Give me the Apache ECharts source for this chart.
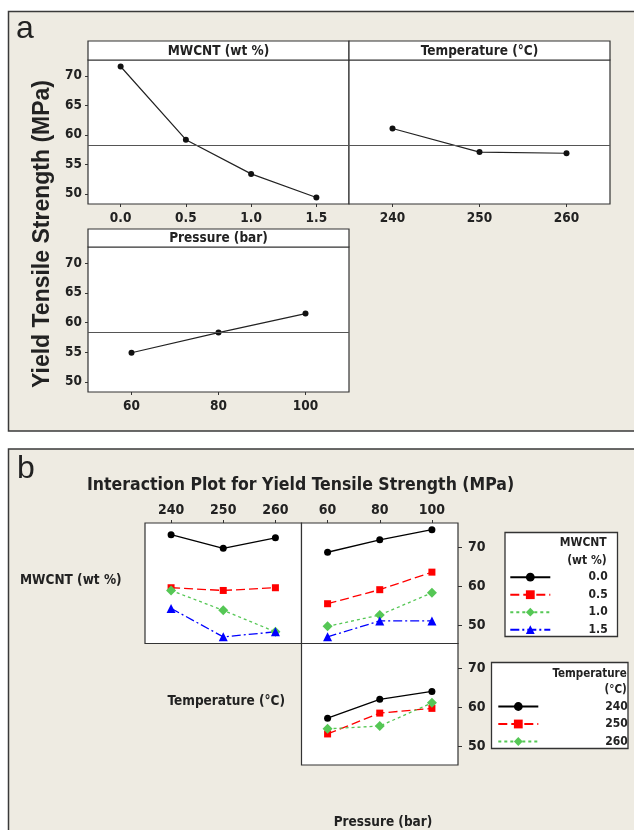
<!DOCTYPE html>
<html>
<head>
<meta charset="utf-8">
<script src="https://cdn.jsdelivr.net/npm/echarts@6/dist/echarts.min.js"></script>
<style>
html,body{margin:0;padding:0;background:#fff;}
#c{width:634px;height:830px;}
</style>
</head>
<body>
<div id="c"></div>
<script>
// ---------- data ----------
const mwcntLevels = ['0.0', '0.5', '1.0', '1.5'];
const tempLevels = ['240', '250', '260'];
const pressureLevels = ['60', '80', '100'];

// main effects (panel a)
const mainMwcnt = [71.6, 59.2, 53.4, 49.4];
const mainTemp = [61.1, 57.1, 56.9];
const mainPressure = [54.9, 58.3, 61.5];
const grandMean = 58.3;
const mainTicks = [50, 55, 60, 65, 70];

// interaction (panel b)
const interTicks = [50, 60, 70];
const mwTemp00 = [73.2, 69.7, 72.4];
const mwTemp05 = [59.6, 58.9, 59.6];
const mwTemp10 = [58.9, 53.8, 48.3];
const mwTemp15 = [54.3, 47.0, 48.3];
const mwPres00 = [68.7, 71.9, 74.5];
const mwPres05 = [55.5, 59.1, 63.6];
const mwPres10 = [49.7, 52.6, 58.3];
const mwPres15 = [47.0, 51.1, 51.1];
const tpPres240 = [57.2, 62.0, 64.0];
const tpPres250 = [53.2, 58.5, 59.7];
const tpPres260 = [54.5, 55.2, 61.1];

// ---------- styles ----------
const F = "'DejaVu Sans Condensed', 'DejaVu Sans', sans-serif";
const TXT = '#222';
const BORDER = '#333';
const PANEL_BG = '#eeebe2';

const mwStyles = [
  {color: '#000000', type: 'solid', symbol: 'circle', size: 7},
  {color: '#ff0000', type: [9, 4], symbol: 'rect', size: 7},
  {color: '#55c755', type: [3, 3], symbol: 'diamond', size: 10},
  {color: '#0000ff', type: [9, 3, 2, 3], symbol: 'triangle', size: 9}
];
const tpStyles = mwStyles.slice(0, 3);

const chart = echarts.init(document.getElementById('c'), null, {renderer: 'canvas'});

const grids = [
  {left: 88, top: 60, width: 261, height: 144},
  {left: 349, top: 60, width: 261, height: 144},
  {left: 88, top: 247, width: 261, height: 145},
  {left: 145, top: 523, width: 156.5, height: 120.5},
  {left: 301.5, top: 523, width: 156.5, height: 120.5},
  {left: 301.5, top: 643.5, width: 156.5, height: 121.5}
].map(g => Object.assign({show: true, backgroundColor: '#fff', borderColor: BORDER, borderWidth: 1.2, containLabel: false}, g));

const tickLabelA = {fontFamily: F, fontWeight: 'bold', fontSize: 13.5, color: TXT};
const tickLabelB = {fontFamily: F, fontWeight: 'bold', fontSize: 14, color: TXT};

function xCat(gi, data, opt) {
  return Object.assign({
    type: 'category', gridIndex: gi, data: data, boundaryGap: true,
    axisLine: {show: false}, splitLine: {show: false},
    axisTick: {show: true, alignWithLabel: true, length: 3, lineStyle: {color: BORDER}},
    axisLabel: Object.assign({margin: 7}, tickLabelA)
  }, opt || {});
}
function yVal(gi, min, max, ticks, opt) {
  return Object.assign({
    type: 'value', gridIndex: gi, min: min, max: max,
    axisLine: {show: false}, splitLine: {show: false},
    axisTick: {show: true, length: 3, customValues: ticks, lineStyle: {color: BORDER}},
    axisLabel: Object.assign({margin: 6, customValues: ticks}, tickLabelA)
  }, opt || {});
}

const xAxes = [
  xCat(0, mwcntLevels),
  xCat(1, tempLevels),
  xCat(2, pressureLevels),
  xCat(3, tempLevels, {position: 'top', axisLabel: Object.assign({margin: 6}, tickLabelB)}),
  xCat(4, pressureLevels, {position: 'top', axisLabel: Object.assign({margin: 6}, tickLabelB)}),
  xCat(5, pressureLevels, {axisTick: {show: false}, axisLabel: {show: false}})
];
const yAxes = [
  yVal(0, 48.3, 72.7, mainTicks),
  yVal(1, 48.3, 72.7, mainTicks, {axisTick: {show: false}, axisLabel: {show: false}}),
  yVal(2, 48.3, 72.7, mainTicks),
  yVal(3, 45.3, 76.2, interTicks, {axisTick: {show: false}, axisLabel: {show: false}}),
  yVal(4, 45.3, 76.2, interTicks, {position: 'right',
    axisTick: {show: true, length: 4, customValues: interTicks, lineStyle: {color: BORDER}},
    axisLabel: Object.assign({margin: 10, customValues: interTicks}, tickLabelB)}),
  yVal(5, 45.3, 76.2, interTicks, {position: 'right',
    axisTick: {show: true, length: 4, customValues: interTicks, lineStyle: {color: BORDER}},
    axisLabel: Object.assign({margin: 10, customValues: interTicks}, tickLabelB)})
];

function mainSeries(gi, data) {
  return {
    type: 'line', xAxisIndex: gi, yAxisIndex: gi, data: data,
    symbol: 'circle', symbolSize: 6, itemStyle: {color: '#111'},
    lineStyle: {color: '#222', width: 1.2}, silent: true,
    markLine: {silent: true, symbol: 'none', label: {show: false},
      lineStyle: {color: '#555', width: 1, type: 'solid'},
      data: [{yAxis: grandMean}]}
  };
}
function interSeries(gi, name, data, st) {
  return {
    type: 'line', name: name, xAxisIndex: gi, yAxisIndex: gi, data: data,
    symbol: st.symbol, symbolSize: st.size, itemStyle: {color: st.color},
    lineStyle: {color: st.color, width: 1.3, type: st.type}, z: 3
  };
}

const series = [
  mainSeries(0, mainMwcnt),
  mainSeries(1, mainTemp),
  mainSeries(2, mainPressure)
];
const mwTempRows = [mwTemp00, mwTemp05, mwTemp10, mwTemp15];
const mwPresRows = [mwPres00, mwPres05, mwPres10, mwPres15];
const tpPresRows = [tpPres240, tpPres250, tpPres260];
mwcntLevels.forEach((lv, i) => {
  series.push(interSeries(3, lv, mwTempRows[i], mwStyles[i]));
  series.push(interSeries(4, lv, mwPresRows[i], mwStyles[i]));
});
tempLevels.forEach((lv, i) => {
  series.push(interSeries(5, lv, tpPresRows[i], tpStyles[i]));
});

function legendOpt(data, left, top, textW) {
  return {
    data: data, left: left, top: top, orient: 'vertical', padding: 0,
    itemWidth: 40, itemHeight: 11, itemGap: 5.5, itemTextGap: 5,
    selectedMode: false, z: 6,
    formatter: n => '{v|' + n + '}',
    textStyle: {rich: {v: {width: textW, align: 'right', fontFamily: F, fontWeight: 'bold', fontSize: 12, color: TXT}}}
  };
}

function txt(x, y, s, o) {
  return {type: 'text', x: x, y: y, z: 7, silent: true,
    style: Object.assign({text: s, fill: TXT, font: 'bold 13.5px ' + F, textAlign: 'left', textVerticalAlign: 'middle'}, o || {})};
}
function header(x, y, w, h, s) {
  return {type: 'group', z: 5, children: [
    {type: 'rect', shape: {x: x, y: y, width: w, height: h}, z: 5,
      style: {fill: '#fff', stroke: BORDER, lineWidth: 1.2}},
    {type: 'text', x: x + w / 2, y: y + h / 2 + 0.5, z: 6,
      style: {text: s, fill: TXT, font: 'bold 13.5px ' + F, textAlign: 'center', textVerticalAlign: 'middle'}}
  ]};
}

const graphic = [
  {type: 'rect', z: -10, silent: true, shape: {x: 8.5, y: 11.5, width: 640, height: 419.5},
    style: {fill: PANEL_BG, stroke: '#3a3a3a', lineWidth: 1.5}},
  {type: 'rect', z: -10, silent: true, shape: {x: 8.5, y: 449, width: 640, height: 420},
    style: {fill: PANEL_BG, stroke: '#3a3a3a', lineWidth: 1.5}},
  txt(16, 29, 'a', {font: '32px "Liberation Sans", Arial, sans-serif'}),
  txt(17, 469, 'b', {font: '32px "Liberation Sans", Arial, sans-serif'}),
  header(88, 41, 261, 19, 'MWCNT (wt %)'),
  header(349, 41, 261, 19, 'Temperature (°C)'),
  header(88, 229, 261, 18, 'Pressure (bar)'),
  {type: 'text', x: 43, y: 234, rotation: Math.PI / 2, z: 7, silent: true,
    style: {text: 'Yield Tensile Strength (MPa)', fill: TXT, font: 'bold 23px "Liberation Sans", Arial, sans-serif', textAlign: 'center', textVerticalAlign: 'middle'}},
  txt(87, 485, 'Interaction Plot for Yield Tensile Strength (MPa)', {font: 'bold 17.5px ' + F}),
  txt(20, 580, 'MWCNT (wt %)'),
  txt(167.5, 701, 'Temperature (°C)'),
  txt(383, 822, 'Pressure (bar)', {textAlign: 'center'}),
  // legend boxes
  {type: 'rect', z: 4, silent: true, shape: {x: 505, y: 532.5, width: 112.5, height: 104},
    style: {fill: '#fff', stroke: BORDER, lineWidth: 1.3}},
  {type: 'rect', z: 4, silent: true, shape: {x: 491.5, y: 662.5, width: 136.5, height: 86},
    style: {fill: '#fff', stroke: BORDER, lineWidth: 1.3}},
  txt(606.7, 543.3, 'MWCNT', {textAlign: 'right', font: 'bold 12px ' + F}),
  txt(606.7, 561, '(wt %)', {textAlign: 'right', font: 'bold 12px ' + F}),
  txt(626.7, 674, 'Temperature', {textAlign: 'right', font: 'bold 11.5px ' + F}),
  txt(626.7, 690, '(°C)', {textAlign: 'right', font: 'bold 11.5px ' + F})
];

chart.setOption({
  animation: false,
  backgroundColor: '#fff',
  grid: grids,
  xAxis: xAxes,
  yAxis: yAxes,
  series: series,
  legend: [
    legendOpt(mwcntLevels, 509.3, 571.2, 52.4),
    legendOpt(tempLevels, 497.3, 700.5, 84.4)
  ],
  graphic: graphic
});
</script>
</body>
</html>
